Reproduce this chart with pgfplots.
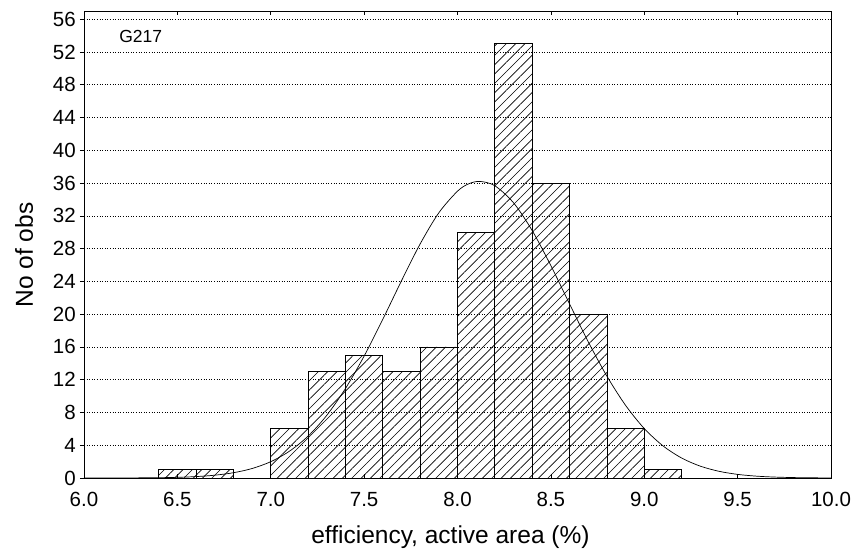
\documentclass[border=0pt]{standalone}
\usepackage{fontspec}
\setmainfont{Liberation Sans}
\usepackage{pgfplots}
\pgfplotsset{compat=1.18}
\usetikzlibrary{patterns.meta}
\begin{document}
\begin{tikzpicture}
\path[use as bounding box] (-84pt,-72pt) rectangle (770pt,478pt);
\begin{axis}[
  at={(0,0)}, anchor=south west,
  scale only axis, width=747pt, height=467pt,
  xmin=6, xmax=10, ymin=0, ymax=57,
  xtick={6,6.5,...,10}, ytick={0,4,...,56},
  xtick pos=both, ytick pos=left,
  tick align=inside, major tick length=4pt,
  y tick style={xshift=-4pt},
  every tick/.append style={black, line width=0.6pt},
  axis line style={line width=0.8pt},
  ymajorgrids,
  major grid style={black, line width=0.55pt, dash pattern=on 1pt off 1.6pt},
  /pgf/number format/assume math mode=true,
  xticklabel style={/pgf/number format/.cd, fixed, fixed zerofill, precision=1, /tikz/.cd, anchor=base, yshift=-28pt, font=\fontsize{20.5}{23}\selectfont},
  yticklabel style={anchor=east, inner sep=0pt, xshift=-8pt, font=\fontsize{20.5}{23}\selectfont},
  xlabel={efficiency, active area (\%)},
  ylabel={No of obs},
  xlabel style={at={(axis description cs:0.4906,-0.1392)}, anchor=base, font=\fontsize{24.5}{28}\selectfont},
  ylabel style={at={(axis description cs:-0.0683,0.4775)}, anchor=base, rotate=0, font=\fontsize{24.5}{28}\selectfont},
]
\addplot[ybar interval, draw=black, line width=0.8pt,
  pattern={Lines[angle=45, distance=6.6pt, line width=0.65pt]}] coordinates {
(6.0,0) (6.2,0) (6.4,1) (6.6,1) (6.8,0) (7.0,6) (7.2,13) (7.4,15) (7.6,13) (7.8,16)
(8.0,30) (8.2,53) (8.4,36) (8.6,20) (8.8,6) (9.0,1) (9.2,0) (9.4,0) (9.6,0) (9.8,0) (10.0,0)
};
\addplot[black, line width=0.7pt, smooth, no markers] coordinates {
(6.0,0.0011) (6.2,0.0072) (6.4,0.0388) (6.5,0.0838) (6.6,0.173) (6.7,0.342) (6.8,0.644)
(6.9,1.158) (7.0,1.99) (7.1,3.27) (7.2,5.11) (7.3,7.65) (7.4,10.92) (7.5,14.88)
(7.6,19.37) (7.7,24.07) (7.8,28.57) (7.9,32.37) (8.0,35.01) (8.06,35.91) (8.12,36.2)
(8.2,35.67) (8.3,33.59) (8.4,30.20) (8.5,25.92) (8.6,21.25) (8.7,16.63) (8.8,12.43)
(8.9,8.87) (9.0,6.04) (9.1,3.93) (9.2,2.44) (9.3,1.447) (9.4,0.819) (9.5,0.443)
(9.6,0.228) (9.7,0.113) (9.8,0.053) (9.9,0.024) (10.0,0.010)
};
\node[anchor=west, font=\fontsize{17.5}{20}\selectfont] at (axis cs:6.17,53.9) {G217};
\end{axis}
\end{tikzpicture}
\end{document}
